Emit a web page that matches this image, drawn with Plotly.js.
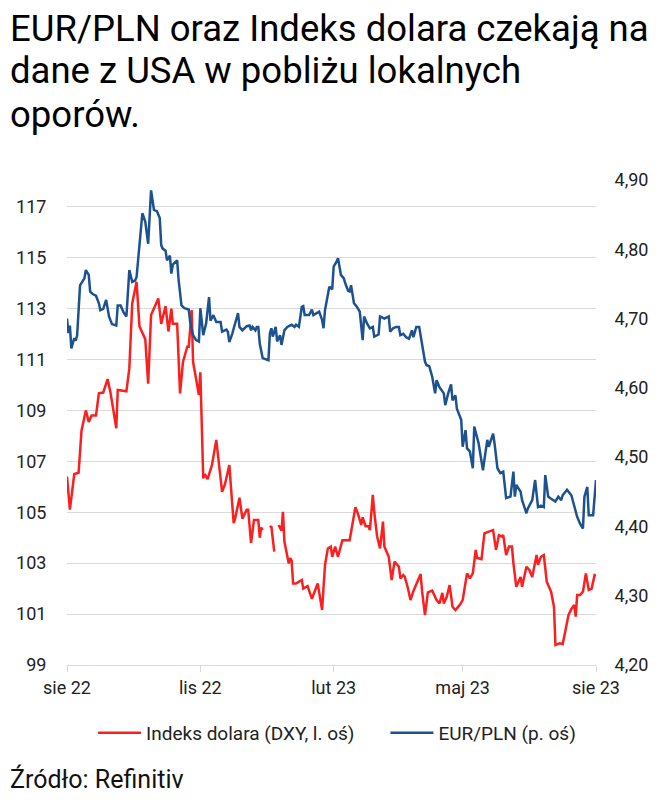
<!DOCTYPE html>
<html><head><meta charset="utf-8">
<script src="https://cdn.plot.ly/plotly-3.0.1.min.js"></script>
<style>body{margin:0;background:#fff}#chart{width:660px;height:800px}</style>
</head><body><div id="chart"></div>
<script>
// day offsets counted from the start date of the chart (1 Aug 2022)
const startDate = '2022-08-01';
const dxyDays = [
0,2,5,8,10,13,15,17,20,22,
25,28,30,32,34,35,41,43,45,48,
50,54,56,58,61,63,65,68,70,72,
73,76,78,80,83,84,86,87,89,91,
92,94,95,97,100,103,107,109,112,115,
116,119,121,124,125,127,129,132,133,134,
135,137,140,141,143,145,146,148,149,150,
153,154,155,156,158,162,163,166,169,173,
176,178,180,182,183,185,187,188,190,195,
197,199,201,203,204,206,208,209,211,212,
214,216,218,219,222,224,226,229,230,232,
233,235,237,239,244,245,247,249,252,253,
255,257,259,260,262,264,266,268,271,273,
276,278,280,282,283,286,288,291,294,296,
298,300,301,303,305,307,308,310,313,314,
317,319,321,324,325,327,329,331,334,336,
337,340,342,344,346,348,350,351,352,354,
356,358,360,362,364,365];
const dxyValues = [
106.4,105.1,106.5,106.55,108.2,109.0,108.55,108.8,108.8,109.67,
109.7,110.23,109.7,108.95,108.3,109.8,109.75,110.65,113.2,114.05,
112.3,111.8,110.05,112.75,113.1,113.4,112.4,113.1,112.1,113.0,
112.4,112.4,109.67,110.9,111.5,111.5,112.94,110.9,110.26,109.6,
110.5,106.33,106.5,106.3,106.85,107.84,105.8,106.1,106.85,104.57,
104.75,105.57,104.75,105.1,105.1,103.8,104.7,104.7,104.0,104.4,
104.3,null,104.4,104.45,103.45,null,104.5,104.28,105.02,103.85,
102.99,103.2,103.1,102.2,102.2,102.34,102.0,102.1,101.6,102.2,
101.16,102.93,103.58,103.65,103.25,103.65,103.25,103.5,103.9,103.9,
104.57,105.2,104.9,104.5,104.8,104.45,104.45,104.3,105.68,105.0,
104.04,103.58,104.63,103.65,103.25,102.34,103.06,102.86,102.4,102.53,
102.47,102.07,101.55,101.9,102.57,101.9,100.96,101.85,101.92,101.8,
101.55,101.42,101.83,101.42,101.68,102.14,101.29,101.16,101.36,101.55,
102.6,102.4,102.6,103.52,103.2,103.16,104.17,104.24,104.3,103.52,
104.1,104.05,104.1,103.32,103.65,103.65,103.0,102.07,102.46,102.07,
102.86,102.73,102.46,103.32,102.93,103.25,103.32,102.27,101.88,101.29,
99.79,99.85,99.82,100.37,100.96,101.2,101.36,100.9,101.75,101.75,
101.88,102.6,101.95,102.0,102.53,102.5];
const eurplnDays = [
0,1,2,3,5,6,7,8,9,12,
13,15,16,18,20,22,23,25,27,29,
31,34,35,37,39,41,43,45,47,48,
50,52,54,56,58,60,62,64,65,66,
68,69,71,72,73,76,77,79,81,84,
85,87,89,91,92,94,96,98,99,101,
103,106,107,110,111,112,114,116,118,119,
121,124,126,127,128,130,131,132,133,135,
138,139,140,141,142,144,145,147,148,150,
152,155,157,158,160,161,162,163,164,167,
169,170,172,174,176,177,178,180,181,183,
184,186,187,189,191,192,193,194,195,196,
198,200,202,204,205,207,209,211,212,215,
216,219,222,223,225,227,229,230,232,234,
236,238,239,241,243,245,247,248,250,252,
254,255,257,260,261,263,265,266,268,269,
272,273,275,276,278,280,281,284,287,288,
290,291,294,295,297,299,301,303,306,308,
309,310,313,314,317,318,321,323,325,327,
329,330,332,334,337,339,341,342,345,348,
350,352,354,356,357,359,360,363,365];
const eurplnValues = [
4.700,4.679,4.690,4.657,4.672,4.668,4.676,4.724,4.748,4.758,
4.770,4.763,4.739,4.735,4.733,4.722,4.712,4.714,4.727,4.703,
4.692,4.690,4.719,4.719,4.709,4.703,4.770,4.753,4.755,4.760,
4.801,4.852,4.840,4.808,4.885,4.857,4.855,4.845,4.806,4.801,
4.798,4.784,4.791,4.765,4.778,4.784,4.756,4.719,4.715,4.713,
4.695,4.676,4.669,4.667,4.715,4.676,4.693,4.731,4.697,4.705,
4.695,4.695,4.681,4.684,4.681,4.666,4.678,4.693,4.708,4.688,
4.683,4.689,4.690,4.683,4.688,4.683,4.688,4.688,4.664,4.643,
4.640,4.640,4.679,4.686,4.674,4.688,4.667,4.676,4.662,4.683,
4.688,4.691,4.688,4.691,4.688,4.703,4.717,4.718,4.705,4.705,
4.713,4.705,4.707,4.710,4.698,4.686,4.712,4.736,4.746,4.742,
4.775,4.782,4.787,4.763,4.758,4.751,4.746,4.740,4.739,4.748,
4.722,4.717,4.710,4.669,4.703,4.693,4.686,4.688,4.674,4.677,
4.703,4.700,4.703,4.681,4.686,4.688,4.688,4.676,4.678,4.673,
4.671,4.683,4.673,4.688,4.688,4.664,4.638,4.633,4.631,4.616,
4.592,4.611,4.601,4.592,4.575,4.592,4.605,4.582,4.589,4.570,
4.554,4.515,4.539,4.513,4.508,4.484,4.544,4.520,4.481,4.496,
4.525,4.515,4.534,4.520,4.484,4.477,4.479,4.441,4.443,4.479,
4.443,4.460,4.450,4.438,4.419,4.426,4.438,4.467,4.428,4.430,
4.428,4.474,4.443,4.440,4.436,4.443,4.438,4.445,4.453,4.445,
4.431,4.414,4.404,4.397,4.443,4.457,4.416,4.416,4.467];

const xTickDates = ['2022-08-01','2022-11-01','2023-02-01','2023-05-01','2023-08-01'];
const xTickLabels = ['sie 22','lis 22','lut 23','maj 23','sie 23'];
const leftTicks = [99,101,103,105,107,109,111,113,115,117];
const rightTicks = [4.2,4.3,4.4,4.5,4.6,4.7,4.8,4.9];
const seriesNames = ['Indeks dolara (DXY, l. oś)','EUR/PLN (p. oś)'];
const titleLines = ['EUR/PLN oraz Indeks dolara czekają na','dane z USA w pobliżu lokalnych','oporów.'];
const sourceText = 'Źródło: Refinitiv';

function toDate(d){
  const t = Date.parse(startDate + 'T00:00:00Z') + d*86400000;
  return new Date(t).toISOString().slice(0,10);
}

const FONT = 'Roboto, "Open Sans", sans-serif';
const traces = [
  {x: eurplnDays.map(toDate), y: eurplnValues, name: seriesNames[1], type:'scatter', mode:'lines',
   yaxis:'y2', legend:'legend2', line:{color:'#1d5291', width:2.5}},
  {x: dxyDays.map(toDate), y: dxyValues, name: seriesNames[0], type:'scatter', mode:'lines',
   yaxis:'y', legend:'legend', line:{color:'#fb2020', width:2.5}, connectgaps:false}
];

const legendBase = {orientation:'h', xref:'container', yref:'container', y:1-733/800,
  xanchor:'left', yanchor:'middle', font:{family:FONT, size:19, color:'#222'}, itemwidth:43,
  bgcolor:'rgba(0,0,0,0)'};

const PX = y => (665 - y) / 485; // page px -> paper y
const layout = {
  width:660, height:800,
  margin:{l:67, r:64, t:180, b:135},
  paper_bgcolor:'#fff', plot_bgcolor:'#fff',
  separators:', ',
  font:{family:FONT, color:'#222', size:18},
  showlegend:true,
  legend:Object.assign({}, legendBase, {x:0.141}),
  legend2:Object.assign({}, legendBase, {x:0.584}),
  xaxis:{type:'date', range:['2022-08-01','2023-08-01'], tickvals:xTickDates, ticktext:xTickLabels,
    ticks:'outside', ticklen:6, tickcolor:'#d9d9d9', tickwidth:1, showline:true, linecolor:'#d9d9d9', linewidth:1,
    showgrid:false, zeroline:false, tickfont:{family:FONT, size:18, color:'#222'}, fixedrange:true},
  yaxis:{range:[99,118.05], tickvals:leftTicks, ticks:'outside', ticklen:16, tickcolor:'rgba(0,0,0,0)',
    showgrid:true, gridcolor:'#d9d9d9', gridwidth:1, zeroline:false, showline:false,
    tickfont:{family:FONT, size:18, color:'#222'}},
  yaxis2:{overlaying:'y', side:'right', range:[4.2,4.9], tickvals:rightTicks, tickformat:'.2f',
    ticks:'outside', ticklen:14, tickcolor:'rgba(0,0,0,0)', showgrid:false, zeroline:false, showline:false,
    tickfont:{family:FONT, size:18, color:'#222'}},
  annotations:[
    {text:titleLines[0], xref:'paper', yref:'paper', x:(8-67)/529, y:PX(28), xanchor:'left', yanchor:'middle',
     showarrow:false, font:{family:FONT, size:36.5, color:'#000'}},
    {text:titleLines[1], xref:'paper', yref:'paper', x:(8-67)/529, y:PX(71), xanchor:'left', yanchor:'middle',
     showarrow:false, font:{family:FONT, size:36.5, color:'#000'}},
    {text:titleLines[2], xref:'paper', yref:'paper', x:(8-67)/529, y:PX(114), xanchor:'left', yanchor:'middle',
     showarrow:false, font:{family:FONT, size:36.5, color:'#000'}},
    {text:sourceText, xref:'paper', yref:'paper', x:(8-67)/529, y:PX(779), xanchor:'left', yanchor:'middle',
     showarrow:false, font:{family:FONT, size:25, color:'#111'}}
  ]
};
Plotly.newPlot('chart', traces, layout, {displayModeBar:false, staticPlot:true});
</script>
</body></html>
